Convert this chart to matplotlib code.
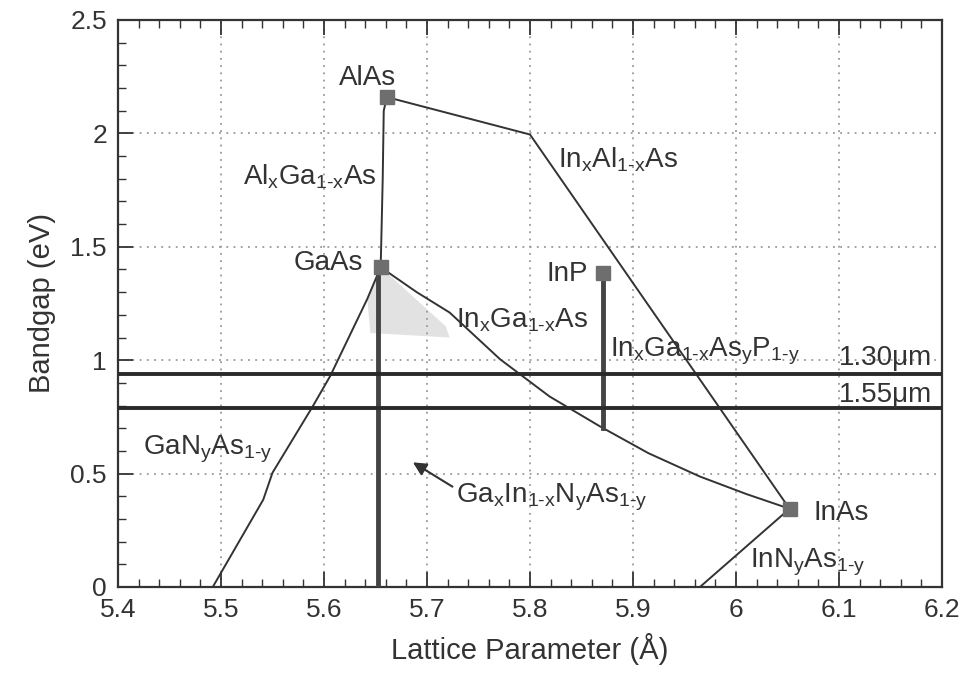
import numpy as np
import matplotlib.pyplot as plt
from matplotlib.patches import Polygon

# binary compounds: lattice parameter (A), bandgap (eV)
compounds = ["AlAs", "GaAs", "InP", "InAs"]
comp_a = [5.661, 5.655, 5.871, 6.052]
comp_eg = [2.16, 1.41, 1.385, 0.345]

# alloy curves
algaas_a = [5.661, 5.658, 5.657, 5.656, 5.655]
algaas_eg = [2.16, 2.10, 1.80, 1.60, 1.41]

inalas_a = [5.661, 5.800, 6.052]
inalas_eg = [2.16, 1.995, 0.345]

ingaas_a = [5.655, 5.690, 5.722, 5.771, 5.819, 5.868, 5.915, 5.965, 6.010, 6.052]
ingaas_eg = [1.41, 1.30, 1.21, 1.004, 0.84, 0.708, 0.59, 0.487, 0.41, 0.345]

ganas_a = [5.655, 5.642, 5.606, 5.589, 5.550, 5.541, 5.492]
ganas_eg = [1.41, 1.27, 0.93, 0.796, 0.504, 0.385, 0.0]

innas_a = [6.052, 5.965]
innas_eg = [0.345, 0.0]

# lattice-matched verticals
gaas_vert_a = [5.652, 5.652]
gaas_vert_eg = [1.41, 0.0]
inp_vert_a = [5.871, 5.871]
inp_vert_eg = [1.385, 0.70]

# telecom wavelengths
wl_labels = ["1.30\u03bcm", "1.55\u03bcm"]
wl_eg = [0.94, 0.79]

# shaded region near GaAs
shade_a = [5.655, 5.718, 5.722, 5.645, 5.642]
shade_eg = [1.41, 1.15, 1.10, 1.12, 1.27]

plt.rcParams['font.family'] = ['Liberation Sans', 'DejaVu Sans']
plt.rcParams['mathtext.fontset'] = 'custom'
plt.rcParams['mathtext.rm'] = 'Liberation Sans'
plt.rcParams['mathtext.it'] = 'Liberation Sans'
plt.rcParams['mathtext.default'] = 'regular'

ink = '#333333'
fig = plt.figure(figsize=(9.69, 6.82), dpi=100)
ax = fig.add_axes([0.1218, 0.1393, 0.8503, 0.8314])

ax.add_patch(Polygon(np.column_stack([shade_a, shade_eg]), closed=True,
                     facecolor='#e2e2e2', edgecolor='none', zorder=1))

for a, e in [(algaas_a, algaas_eg), (inalas_a, inalas_eg), (ingaas_a, ingaas_eg),
             (ganas_a, ganas_eg), (innas_a, innas_eg)]:
    ax.plot(a, e, color=ink, lw=1.4, zorder=3)

ax.plot(gaas_vert_a, gaas_vert_eg, color='#444444', lw=3.5, zorder=3)
ax.plot(inp_vert_a, inp_vert_eg, color='#444444', lw=3.5, zorder=3)

for e in wl_eg:
    ax.axhline(e, color='#2a2a2a', lw=2.8, zorder=3)

ax.plot(comp_a, comp_eg, 's', color='#6e6e6e', ms=9.5, zorder=4)

ax.annotate('', xy=(5.684, 0.556), xytext=(5.727, 0.436),
            arrowprops=dict(arrowstyle='-|>', color=ink, lw=1.5,
                            mutation_scale=20), zorder=4)

fs = 20
txt = dict(color=ink, fontsize=fs, va='baseline', zorder=5)
ax.text(5.642, 2.215, "AlAs", ha='center', **txt)
ax.text(5.586, 1.774, r"Al$_x$Ga$_{1\text{-}x}$As", ha='center', **txt)
ax.text(5.604, 1.399, "GaAs", ha='center', **txt)
ax.text(5.885, 1.849, r"In$_x$Al$_{1\text{-}x}$As", ha='center', **txt)
ax.text(5.836, 1.35, "InP", ha='center', **txt)
ax.text(5.728, 1.143, r"In$_x$Ga$_{1\text{-}x}$As", ha='left', **txt)
ax.text(5.878, 1.015, r"In$_x$Ga$_{1\text{-}x}$As$_y$P$_{1\text{-}y}$", ha='left', **txt)
ax.text(6.19, 0.98, wl_labels[0], ha='right', **txt)
ax.text(6.19, 0.816, wl_labels[1], ha='right', **txt)
ax.text(5.424, 0.583, r"GaN$_y$As$_{1\text{-}y}$", ha='left', **txt)
ax.text(5.728, 0.371, r"Ga$_x$In$_{1\text{-}x}$N$_y$As$_{1\text{-}y}$", ha='left', **txt)
ax.text(6.075, 0.296, "InAs", ha='left', **txt)
ax.text(6.014, 0.088, r"InN$_y$As$_{1\text{-}y}$", ha='left', **txt)

ax.set_xlim(5.4, 6.2)
ax.set_ylim(0, 2.5)
ax.set_xticks(np.arange(5.4, 6.21, 0.1))
ax.set_xticklabels(["5.4", "5.5", "5.6", "5.7", "5.8", "5.9", "6", "6.1", "6.2"])
ax.set_yticks([0, 0.5, 1, 1.5, 2, 2.5])
ax.set_yticklabels(["0", "0.5", "1", "1.5", "2", "2.5"])
ax.set_xticks(np.arange(5.4, 6.201, 0.02), minor=True)
ax.set_yticks(np.arange(0, 2.501, 0.1), minor=True)
ax.tick_params(which='both', direction='in', top=True, right=False,
               colors=ink, labelsize=19, pad=8)
ax.tick_params(which='major', length=11, width=1.3)
ax.tick_params(which='minor', length=6, width=1.0)
ax.grid(True, which='major', linestyle=(0, (1, 3)), color='#999999', lw=1.3)
for s in ax.spines.values():
    s.set_color(ink)
    s.set_linewidth(1.6)

ax.set_xlabel("Lattice Parameter (\u00c5)", fontsize=21, color=ink, labelpad=8)
ax.set_ylabel("Bandgap (eV)", fontsize=21, color=ink, labelpad=10)

fig.savefig("out.png", dpi=100)
